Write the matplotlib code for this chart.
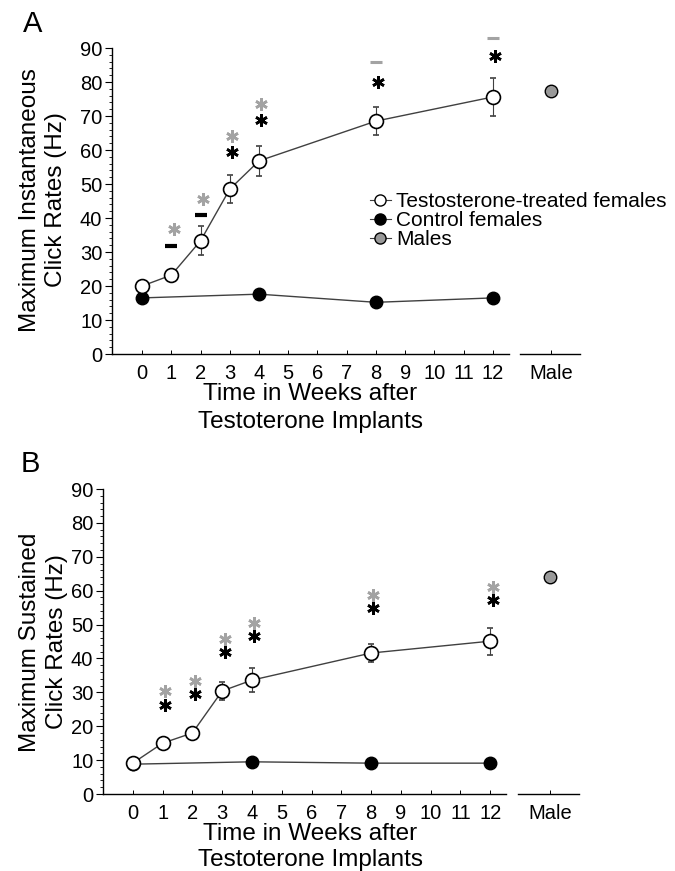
import numpy as np
import matplotlib.pyplot as plt
from matplotlib.lines import Line2D

plt.rcParams['font.family'] = ['Liberation Sans', 'DejaVu Sans']

# datos
semanas = [0, 1, 2, 3, 4, 8, 12]
semanas_ctrl = [0, 4, 8, 12]
x_macho = 14

# panel A: tasa instantanea maxima
tratadas_A = [20.0, 23.2, 33.3, 48.5, 56.8, 68.5, 75.6]
err_tratadas_A = [1.0, 1.0, 4.2, 4.2, 4.4, 4.0, 5.6]
control_A = [16.5, 17.6, 15.2, 16.5]
err_control_A = [0.5, 1.3, 0.5, 0.5]
machos_A = 77.4

# panel B: tasa sostenida maxima
tratadas_B = [9.1, 15.0, 18.0, 30.4, 33.6, 41.6, 45.1]
err_tratadas_B = [0.5, 0.8, 0.8, 2.6, 3.6, 2.6, 4.0]
control_B = [8.8, 9.5, 9.1, 9.1]
err_control_B = [0.4, 0.5, 0.4, 0.4]
machos_B = 64.0

# marcas de significancia (gris = vs machos, negro = vs control)
sig_semanas = [1, 2, 3, 4, 8, 12]
gris_A = [36.7, 45.6, 64.0, 73.5, 85.8, 93.0]
tipo_gris_A = ['*', '*', '*', '*', '-', '-']
negro_A = [31.8, 41.0, 59.3, 68.8, 80.0, 87.6]
tipo_negro_A = ['-', '-', '*', '*', '*', '*']
gris_B = [30.4, 33.3, 45.7, 50.4, 58.7, 61.0]
tipo_gris_B = ['*'] * 6
negro_B = [26.3, 29.5, 41.9, 46.6, 54.9, 57.2]
tipo_negro_B = ['*'] * 6

ticks_x = list(range(13)) + [x_macho]
etiquetas_x = [str(i) for i in range(13)] + ['Male']

GRIS = '#a3a3a3'
LINEA = '0.25'

fig = plt.figure(figsize=(6.75, 8.71), dpi=100)
W, H = 675, 871


def ejes(izq, arriba, abajo):
    # caja en pixeles -> coordenadas de figura
    ancho = 582 - izq
    return fig.add_axes([izq / W, 1 - abajo / H, ancho / W, (abajo - arriba) / H])


def marcas(ax, xs, ys, tipos, color):
    for x, y, t in zip(xs, ys, tipos):
        if t == '*':
            ax.plot(x + 0.08, y, marker=(6, 2, 0), ms=9, mew=1.9, color=color,
                    clip_on=False, zorder=5)
        else:
            ax.plot(x, y, marker='_', ms=9, mew=3 if color == 'k' else 2.2,
                    color=color, clip_on=False, zorder=5)


def panel(ax, x0, trat, err_trat, ctrl, err_ctrl, macho, gris, tg, negro, tn):
    ax.set_xlim(x0, x0 + 16.08)
    ax.set_ylim(0, 90)
    for s in ['top', 'right', 'bottom']:
        ax.spines[s].set_visible(False)
    ax.spines['left'].set_linewidth(1)
    ax.plot([x0, 12.54], [0, 0], color='k', lw=1, clip_on=False)
    ax.plot([12.93, 14.98], [0, 0], color='k', lw=1, clip_on=False)

    ax.errorbar(semanas_ctrl, ctrl, yerr=err_ctrl, color=LINEA, lw=1, capsize=2,
                elinewidth=0.8, marker='o', ms=9, mfc='k', mec='k', zorder=3)
    ax.errorbar(semanas, trat, yerr=err_trat, color=LINEA, lw=1, capsize=2,
                elinewidth=0.8, marker='o', ms=10, mfc='white', mec='k', mew=1.2,
                zorder=4)
    ax.plot(x_macho, macho, 'o', ms=9, mfc='#999999', mec='k', mew=1, zorder=4)

    marcas(ax, sig_semanas, gris, tg, GRIS)
    marcas(ax, sig_semanas, negro, tn, 'k')

    ax.set_yticks(np.arange(0, 91, 10))
    ax.set_yticks(np.arange(0, 91, 2), minor=True)
    ax.tick_params(axis='y', which='major', length=5, width=0.8, labelsize=14.5, pad=2)
    ax.tick_params(axis='y', which='minor', length=2.5, width=0.6)
    ax.set_xticks(ticks_x)
    ax.set_xticklabels(etiquetas_x)
    ax.tick_params(axis='x', direction='in', length=3, width=0.7, labelsize=14.5, pad=7)
    return ax


# panel A
axA = ejes(112, 48, 354)
panel(axA, -1.03, tratadas_A, err_tratadas_A, control_A, err_control_A, machos_A,
      gris_A, tipo_gris_A, negro_A, tipo_negro_A)
fig.text(43 / W, 1 - 200 / H, 'Maximum Instantaneous\nClick Rates (Hz)', rotation=90,
         ha='center', va='center', fontsize=17.5, linespacing=1.25)
fig.text(310 / W, 1 - 408 / H, 'Time in Weeks after\nTestoterone Implants',
         ha='center', va='center', fontsize=17.5, linespacing=1.3)
fig.text(23 / W, 1 - 10 / H, 'A', ha='left', va='top', fontsize=21)

manejadores = [
    Line2D([], [], color=LINEA, lw=0.8, marker='o', ms=8, mfc='white', mec='k'),
    Line2D([], [], color=LINEA, lw=0.8, marker='o', ms=8, mfc='k', mec='k'),
    Line2D([], [], color=LINEA, lw=0.8, marker='o', ms=8, mfc='#999999', mec='k'),
]
axA.legend(manejadores, ['Testosterone-treated females', 'Control females', 'Males'],
           loc='upper left', bbox_to_anchor=(370 / W, 1 - 192 / H),
           bbox_transform=fig.transFigure, frameon=False, fontsize=15,
           handlelength=1.0, handletextpad=0.25, borderpad=0, borderaxespad=0,
           labelspacing=0.0)

# panel B
axB = ejes(103, 489, 794)
panel(axB, -1.0, tratadas_B, err_tratadas_B, control_B, err_control_B, machos_B,
      gris_B, tipo_gris_B, negro_B, tipo_negro_B)
fig.text(43.5 / W, 1 - 642 / H, 'Maximum Sustained\nClick Rates (Hz)', rotation=90,
         ha='center', va='center', fontsize=17.5, linespacing=1.25)
fig.text(310 / W, 1 - 847 / H, 'Time in Weeks after\nTestoterone Implants',
         ha='center', va='center', fontsize=17.5, linespacing=1.25)
fig.text(21 / W, 1 - 450 / H, 'B', ha='left', va='top', fontsize=21)

fig.savefig('out.png', dpi=100)
